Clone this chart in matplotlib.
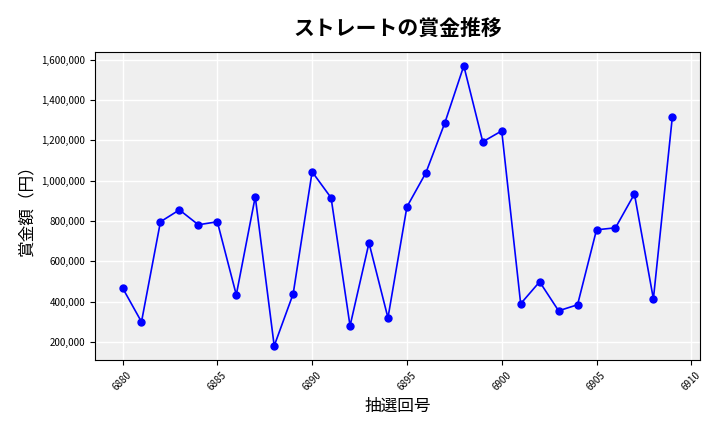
import matplotlib.pyplot as plt
import matplotlib.ticker as ticker

plt.rcParams['font.family'] = ['Noto Sans CJK JP', 'DejaVu Sans']

draws = list(range(6880, 6910))
prizes = [468000, 299000, 796000, 855000, 781000, 796000, 433000, 920000, 180000, 438000,
          1044000, 915000, 279000, 691000, 319000, 870000, 1039000, 1287000, 1570000, 1193000,
          1247000, 389000, 498000, 354000, 384000, 756000, 766000, 934000, 413000, 1317000]

fig, ax = plt.subplots(figsize=(7.2, 4.32), dpi=100)
ax.set_facecolor('#efefef')
ax.plot(draws, prizes, color='blue', linewidth=1.2, marker='o', markersize=5)

ax.set_title('ストレートの賞金推移', fontsize=15, fontweight='bold', pad=12)
ax.set_xlabel('抽選回号', fontsize=12)
ax.set_ylabel('賞金額（円）', fontsize=12)
ax.grid(color='white', linewidth=1)
ax.set_axisbelow(True)
ax.yaxis.set_major_formatter(ticker.FuncFormatter(lambda v, _: f"{v:,.0f}"))
ax.tick_params(axis='x', labelrotation=45, labelsize=7)
ax.tick_params(axis='y', labelsize=7)

fig.subplots_adjust(left=0.132, right=0.972, top=0.880, bottom=0.167)
plt.savefig('out.png', dpi=100)
